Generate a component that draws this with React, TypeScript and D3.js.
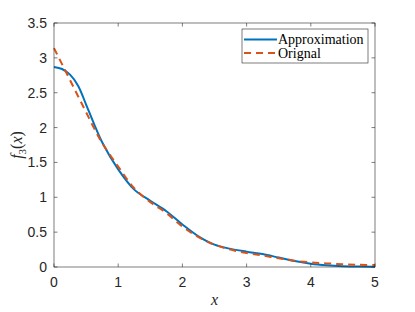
import * as d3 from "d3";
import { useEffect, useRef } from "react";

// x grid shared by both curves
const xs = [0, 0.125, 0.25, 0.375, 0.5, 0.625, 0.75, 1, 1.25, 1.5, 1.75, 2, 2.25, 2.5, 2.75, 3, 3.25, 3.5, 3.75, 4, 4.25, 4.5, 4.75, 5];

// approximation (solid blue)
const approx = [2.87, 2.84, 2.76, 2.6, 2.33, 2.05, 1.79, 1.4, 1.11, 0.95, 0.8, 0.61, 0.44, 0.32, 0.26, 0.22, 0.185, 0.135, 0.085, 0.047, 0.025, 0.012, 0.006, 0.005];

// original (dashed orange)
const orignal = [3.14, 2.91, 2.68, 2.45, 2.22, 1.99, 1.78, 1.44, 1.13, 0.93, 0.775, 0.58, 0.43, 0.32, 0.25, 0.2, 0.165, 0.125, 0.09, 0.066, 0.052, 0.04, 0.031, 0.027];

const xTicks = [0, 1, 2, 3, 4, 5];
const yTicks = [0, 0.5, 1, 1.5, 2, 2.5, 3, 3.5];

const legendItems = [
  { label: "Approximation", color: "#0072BD", dash: "" },
  { label: "Orignal", color: "#D95319", dash: "7,5" },
];

const width = 415;
const height = 312;

export default function App() {
  const svgRef = useRef<SVGSVGElement | null>(null);

  useEffect(() => {
    if (!svgRef.current) return;
    const svg = d3.select(svgRef.current);
    svg.selectAll("*").remove();

    const left = 54, right = 375, top = 23, bottom = 267;
    const x = d3.scaleLinear().domain([0, 5]).range([left, right]);
    const y = d3.scaleLinear().domain([0, 3.5]).range([bottom, top]);
    const axisColor = "#262626";
    const tickFont = "'Liberation Sans', Arial, sans-serif";
    const serif = "'Liberation Serif', 'DejaVu Serif', serif";

    svg.append("rect").attr("width", width).attr("height", height).attr("fill", "#fff");

    // curves
    const line = d3
      .line<number>()
      .x((_, i) => x(xs[i]))
      .y((d) => y(d))
      .curve(d3.curveCatmullRom.alpha(0.5));

    const plot = svg.append("g");
    plot
      .append("path")
      .datum(approx)
      .attr("fill", "none")
      .attr("stroke", "#0072BD")
      .attr("stroke-width", 2)
      .attr("d", line);
    plot
      .append("path")
      .datum(orignal)
      .attr("fill", "none")
      .attr("stroke", "#D95319")
      .attr("stroke-width", 2)
      .attr("stroke-dasharray", "7,5")
      .attr("d", line);

    // box + ticks
    const axes = svg.append("g").attr("stroke", axisColor).attr("stroke-width", 0.6).attr("fill", "none");
    axes.append("rect").attr("x", left).attr("y", top).attr("width", right - left).attr("height", bottom - top);
    xTicks.forEach((t) => {
      axes.append("line").attr("x1", x(t)).attr("x2", x(t)).attr("y1", bottom).attr("y2", bottom - 3.5);
      axes.append("line").attr("x1", x(t)).attr("x2", x(t)).attr("y1", top).attr("y2", top + 3.5);
    });
    yTicks.forEach((t) => {
      axes.append("line").attr("x1", left).attr("x2", left + 3.5).attr("y1", y(t)).attr("y2", y(t));
      axes.append("line").attr("x1", right).attr("x2", right - 3.5).attr("y1", y(t)).attr("y2", y(t));
    });

    // tick labels
    svg
      .selectAll(".xt")
      .data(xTicks)
      .enter()
      .append("text")
      .attr("x", (d) => x(d))
      .attr("y", bottom + 20)
      .attr("text-anchor", "middle")
      .attr("font-family", tickFont)
      .attr("font-size", 14)
      .attr("fill", axisColor)
      .text((d) => String(d));
    svg
      .selectAll(".yt")
      .data(yTicks)
      .enter()
      .append("text")
      .attr("x", left - 7)
      .attr("y", (d) => y(d) + 5)
      .attr("text-anchor", "end")
      .attr("font-family", tickFont)
      .attr("font-size", 14)
      .attr("fill", axisColor)
      .text((d) => String(d));

    // axis labels
    svg
      .append("text")
      .attr("x", (left + right) / 2)
      .attr("y", 305)
      .attr("text-anchor", "middle")
      .attr("font-family", serif)
      .attr("font-style", "italic")
      .attr("font-size", 16)
      .attr("fill", axisColor)
      .text("x");

    const yl = svg
      .append("text")
      .attr("transform", `translate(22,${(top + bottom) / 2}) rotate(-90)`)
      .attr("text-anchor", "middle")
      .attr("font-family", serif)
      .attr("font-size", 16)
      .attr("fill", axisColor);
    yl.append("tspan").attr("font-style", "italic").text("f");
    yl.append("tspan").attr("font-size", 11).attr("dy", 4).text("3");
    yl.append("tspan").attr("dy", -4).text("(");
    yl.append("tspan").attr("font-style", "italic").text("x");
    yl.append("tspan").text(")");

    // legend
    const lg = svg.append("g").attr("transform", "translate(242,29)");
    lg.append("rect")
      .attr("width", 126)
      .attr("height", 34)
      .attr("fill", "#fff")
      .attr("stroke", axisColor)
      .attr("stroke-width", 0.6);
    legendItems.forEach((d, i) => {
      const yy = 10.5 + i * 13.5;
      lg.append("line")
        .attr("x1", 2)
        .attr("x2", 35)
        .attr("y1", yy)
        .attr("y2", yy)
        .attr("stroke", d.color)
        .attr("stroke-width", 2)
        .attr("stroke-dasharray", d.dash || null);
      lg.append("text")
        .attr("x", 36)
        .attr("y", yy + 4.5)
        .attr("font-family", serif)
        .attr("font-size", 14)
        .attr("fill", "#000")
        .text(d.label);
    });
  }, []);

  return (
    <svg
      ref={svgRef}
      width={width}
      height={height}
      style={{ position: "absolute", left: 0, top: 0 }}
    />
  );
}
